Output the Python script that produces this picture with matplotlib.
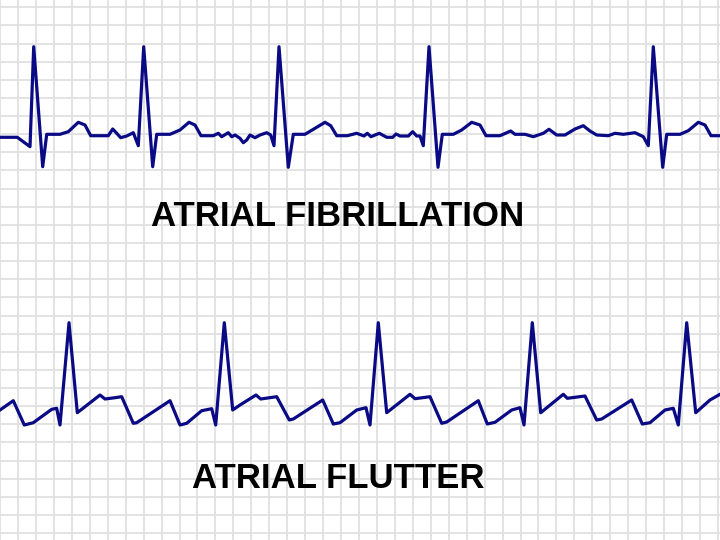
import matplotlib.pyplot as plt
from matplotlib.ticker import MultipleLocator

# Atrial fibrillation trace (x, y in picture units, y grows downward)
fib_x = [0, 17.3, 30, 33.7, 42.7, 46.7, 60, 68.3, 78.3, 85, 90.7, 108.3, 112.7, 116.7,
         120.7, 126.7, 133.3, 138.3, 143.7, 152.7, 156.7, 170, 180, 189, 195, 201,
         213.3, 218.3, 221.7, 228.3, 231.7, 235, 240, 243.3, 246.7, 250, 255, 260,
         266.7, 270.7, 274, 279, 288.3, 293.3, 305, 315, 325, 330.7, 336.7, 347.3,
         356.7, 364, 367.3, 371, 379.3, 386.7, 392.7, 396, 400, 408.3, 412.7, 416.7,
         420, 423.3, 429, 438, 442.3, 453.3, 461.7, 471.7, 480, 486, 500, 510.7, 515,
         525, 533.3, 543.3, 549, 556.7, 565, 575, 583.3, 590, 596.7, 608.3, 615,
         623.3, 635, 643.3, 648.3, 653.3, 662.7, 666.7, 680, 688.3, 698.3, 705, 711,
         720]
fib_y = [137.3, 137.3, 146.7, 46.7, 166.7, 134.3, 134.3, 131.7, 122.3, 125, 135.7,
         135.7, 129, 133.3, 137.7, 136, 132.7, 145.7, 46.7, 166.7, 134.3, 134.3, 130,
         122.3, 125, 135.7, 135.7, 133.3, 136.7, 132.7, 136.7, 135, 138.3, 142.7, 140,
         135, 137.7, 135, 132.7, 135, 145.7, 46.7, 167.3, 134.3, 134.3, 128.3, 122.3,
         125.7, 135.7, 135.7, 133.3, 136, 133.3, 136.7, 133.3, 137.3, 137.3, 134, 136,
         136, 131.7, 136, 136, 145.7, 46.7, 167.3, 134.3, 134.3, 130, 122.3, 125, 135.7,
         135.7, 131, 134.3, 134.3, 136.7, 133.3, 129.3, 135, 135, 129, 125.7, 131, 135,
         135.7, 133.3, 134.3, 132.7, 136.7, 145.7, 46.7, 167.3, 134.3, 134.3, 130.7,
         122.3, 125, 135.7, 135.7]

# Atrial flutter trace
flut_x = [0, 13.3, 24.3, 33.3, 51.7, 56.7, 60, 69, 77.3, 100, 105, 115, 121.7, 133.3,
          136.7, 170, 180, 186.7, 201.7, 211.7, 215.7, 224.3, 232.7, 240, 256, 260.7,
          276.7, 289.3, 293.3, 322.7, 333.3, 340, 356.7, 366, 370, 378.3, 386.7, 410,
          415, 430, 441.7, 446.7, 478.3, 487.3, 495, 511.7, 520, 524, 532.3, 540.7,
          563.3, 567.3, 585, 596.7, 601.7, 631.7, 642.3, 650, 665, 673.3, 678.3, 686.7,
          695.7, 710, 720]
flut_y = [410, 400.7, 425, 422.7, 409.3, 408.3, 425, 322.7, 412.7, 395, 399, 397.7,
          396.7, 423.3, 422.7, 400.7, 425, 423.3, 410.7, 408.7, 425, 322.7, 410, 405,
          395, 399, 396.7, 420, 419, 400, 424, 422.7, 410, 407.7, 425, 322.7, 412.7,
          394.3, 398.7, 396.7, 423.3, 422, 400.7, 424, 422.3, 410, 407.7, 425, 322.7,
          412.7, 394.3, 398.3, 396, 420, 419, 400, 424, 422.7, 410, 408.3, 425, 322.7,
          412.7, 400, 394.3]

labels = ["ATRIAL FIBRILLATION", "ATRIAL FLUTTER"]

fig = plt.figure(figsize=(7.2, 5.4), dpi=100)
ax = fig.add_axes([0, 0, 1, 1])
ax.set_xlim(0, 720)
ax.set_ylim(540, 0)

# ECG paper grid
ax.xaxis.set_major_locator(MultipleLocator(17.95))
ax.yaxis.set_major_locator(MultipleLocator(18.13, offset=7.3))
ax.grid(True, color='#e0e0e0', linewidth=1.3)
ax.tick_params(length=0, labelbottom=False, labelleft=False)
for s in ax.spines.values():
    s.set_visible(False)
ax.set_axisbelow(True)

ecg_color = '#0a0a85'
ax.plot(fib_x, fib_y, color=ecg_color, linewidth=2.3, solid_joinstyle='round')
ax.plot(flut_x, flut_y, color=ecg_color, linewidth=2.3, solid_joinstyle='round')

ax.text(337.5, 217, labels[0], ha='center', va='center', fontsize=25,
        fontweight='bold', family='Liberation Sans', color='black')
ax.text(338, 479, labels[1], ha='center', va='center', fontsize=25,
        fontweight='bold', family='Liberation Sans', color='black')

fig.savefig('out.png', dpi=100)
